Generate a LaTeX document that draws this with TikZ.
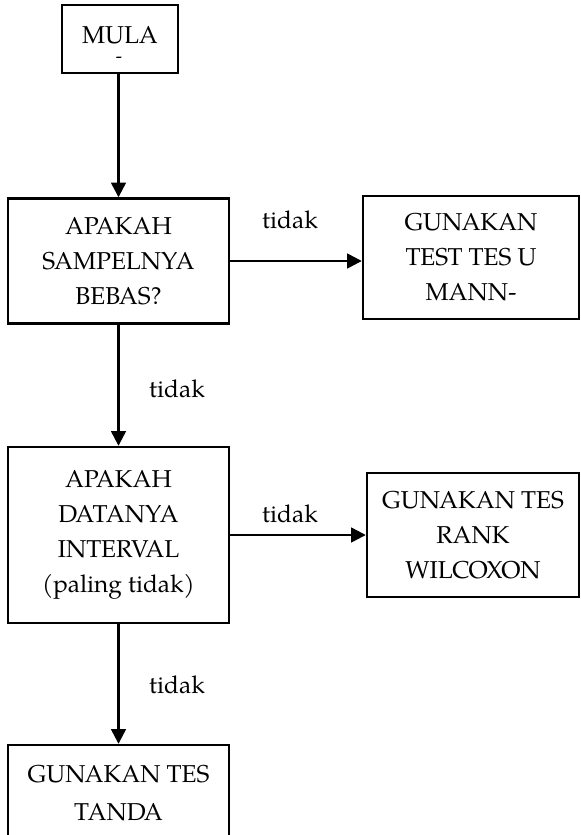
\documentclass[tikz,border=0pt]{standalone}
\usepackage{fontspec}
\setmainfont{TeX Gyre Pagella}
\usetikzlibrary{arrows.meta}
\begin{document}
\begin{tikzpicture}[x=0.75pt,y=-0.75pt,
  box/.style={draw, line width=1.8pt, align=center, inner sep=0pt, font=\fontsize{18.3}{26.2}\selectfont},
  arr/.style={line width=1.8pt, -{Triangle[length=11pt,width=11pt]}},
  lbl/.style={font=\fontsize{18.3}{22}\selectfont, anchor=base, inner sep=0pt}]
\useasboundingbox (0,0) rectangle (581,835);
\clip (0,0) rectangle (581,835);
% nodes
\node[box, minimum width=116*0.75pt, minimum height=68*0.75pt] (mula) at (120,39) {};
\node[lbl] (mulat) at (120,43) {MULA};
\node[font=\fontsize{14}{14}\selectfont, inner sep=0pt] (mulam) at (119,60) {-};
\node[box, minimum width=221*0.75pt, minimum height=125*0.75pt] (b2) at (118.5,261)
  {APAKAH\\SAMPELNYA\\BEBAS?};
\node[box, minimum width=216*0.75pt, minimum height=123*0.75pt] (b3) at (471,257.5)
  {GUNAKAN\\TEST TES U\\MANN-};
\node[box, minimum width=221*0.75pt, minimum height=176*0.75pt] (b4) at (118.5,535)
  {APAKAH\\DATANYA\\INTERVAL\\(paling tidak)};
\node[box, minimum width=212*0.75pt, minimum height=124*0.75pt] (b5) at (473,535)
  {GUNAKAN TES\\RANK\\WILCOXON};
\node[box, minimum width=221*0.75pt, minimum height=96*0.75pt] (b6) at (118.5,793)
  {GUNAKAN TES\\[2pt]TANDA};
% connectors
\draw[arr] (b2.north |- mula.south) -- (b2.north);
\draw[arr] (b2.east) -- (b2.east -| b3.west);
\draw[arr] (b2.south) -- (b4.north);
\draw[arr] (b4.east) -- (b4.east -| b5.west);
\draw[arr] (b4.south) -- (b6.north);
% labels
\node[lbl] (t1) at (290,228) {tidak};
\node[lbl] (t2) at (177,397) {tidak};
\node[lbl] (t3) at (290,522) {tidak};
\node[lbl] (t4) at (177,693) {tidak};
\end{tikzpicture}
\end{document}
